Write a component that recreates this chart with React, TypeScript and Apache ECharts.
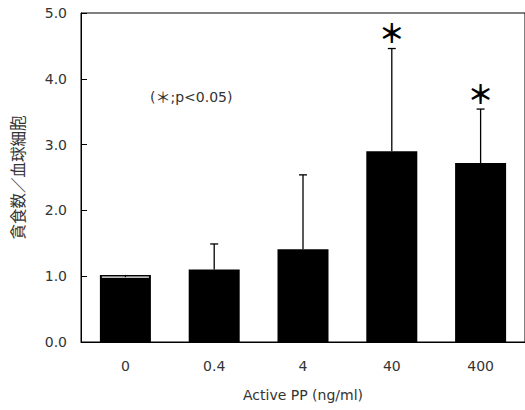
import React, { useEffect, useRef } from "react";
import * as echarts from "echarts";

const categories = ["0", "0.4", "4", "40", "400"];
const meanValues = [1.02, 1.1, 1.41, 2.9, 2.72];
const errorTops = [0.985, 1.49, 2.54, 4.46, 3.54];
const significant = [0, 0, 0, 1, 1];
const yTicks = [0, 1, 2, 3, 4, 5];

const FONT = "'DejaVu Sans', sans-serif";
const CJK = "'Noto Sans CJK JP', sans-serif";
const TEXT = "#333";

export default function App() {
  const ref = useRef<HTMLDivElement>(null);
  useEffect(() => {
    if (!ref.current) return;
    const chart = echarts.init(ref.current, undefined, { renderer: "svg" });
    const errData = categories.map((_, i) => [i, meanValues[i], errorTops[i], significant[i]]);
    chart.setOption({
      animation: false,
      backgroundColor: "#fff",
      grid: { left: 81, top: 13, width: 446, height: 329, show: true, borderColor: "#000", borderWidth: 1, backgroundColor: "transparent" },
      xAxis: {
        type: "category",
        data: categories,
        name: "Active PP (ng/ml)",
        nameLocation: "middle",
        nameGap: 46,
        nameTextStyle: { fontFamily: FONT, fontSize: 14, color: TEXT },
        axisLine: { lineStyle: { color: "#000", width: 1 } },
        axisTick: { inside: true, length: 5, lineStyle: { color: "#000" } },
        axisLabel: { fontFamily: FONT, fontSize: 14, color: TEXT, margin: 17 },
      },
      yAxis: {
        type: "value",
        min: yTicks[0],
        max: yTicks[yTicks.length - 1],
        interval: 1,
        name: "貪食数／血球細胞",
        nameLocation: "middle",
        nameGap: 56,
        nameTextStyle: { fontFamily: CJK, fontSize: 15.5, color: TEXT },
        axisLine: { show: true, lineStyle: { color: "#000", width: 1 } },
        axisTick: { show: true, inside: true, length: 6, lineStyle: { color: "#000" } },
        splitLine: { show: false },
        axisLabel: { fontFamily: FONT, fontSize: 14, color: TEXT, margin: 14, formatter: (v: number) => v.toFixed(1) },
      },
      series: [
        {
          type: "bar",
          data: meanValues,
          barWidth: 51,
          itemStyle: { color: "#000" },
        },
        {
          type: "custom",
          data: errData,
          z: 10,
          renderItem: (params: any, api: any) => {
            const idx = api.value(0);
            const top = api.coord([idx, api.value(2)]);
            const base = api.coord([idx, api.value(1)]);
            const inside = api.value(2) < api.value(1);
            const capHalf = inside ? 23.5 : 4;
            const children: any[] = [];
            if (inside) {
              children.push({
                type: "line",
                shape: { x1: top[0] - capHalf, y1: top[1], x2: top[0] + capHalf, y2: top[1] },
                style: { stroke: "#fff", lineWidth: 1.2 },
              });
            }
            children.push({
              type: "line",
              shape: { x1: base[0], y1: base[1], x2: top[0], y2: top[1] },
              style: { stroke: "#000", lineWidth: 1.3 },
            });
            if (!inside) {
              children.push({
                type: "line",
                shape: { x1: top[0] - capHalf, y1: top[1], x2: top[0] + capHalf, y2: top[1] },
                style: { stroke: "#000", lineWidth: 1.3 },
              });
            }
            if (api.value(3)) {
              children.push({
                type: "text",
                style: {
                  text: "＊",
                  x: top[0],
                  y: top[1] - 17,
                  align: "center",
                  verticalAlign: "middle",
                  fontSize: 26,
                  fontWeight: "bold",
                  fontFamily: CJK,
                  fill: "#000",
                },
              });
            }
            return { type: "group", children };
          },
        },
      ],
      graphic: [
        {
          type: "text",
          left: 150,
          top: 89,
          style: {
            text: "({s|＊};p<0.05)",
            fontFamily: FONT,
            fontSize: 14,
            fill: TEXT,
            rich: { s: { fontFamily: CJK, fontSize: 15, fill: TEXT } },
          },
        },
      ],
    });
    return () => chart.dispose();
  }, []);
  return <div ref={ref} style={{ position: "absolute", left: 0, top: 0, width: 525, height: 410 }} />;
}
